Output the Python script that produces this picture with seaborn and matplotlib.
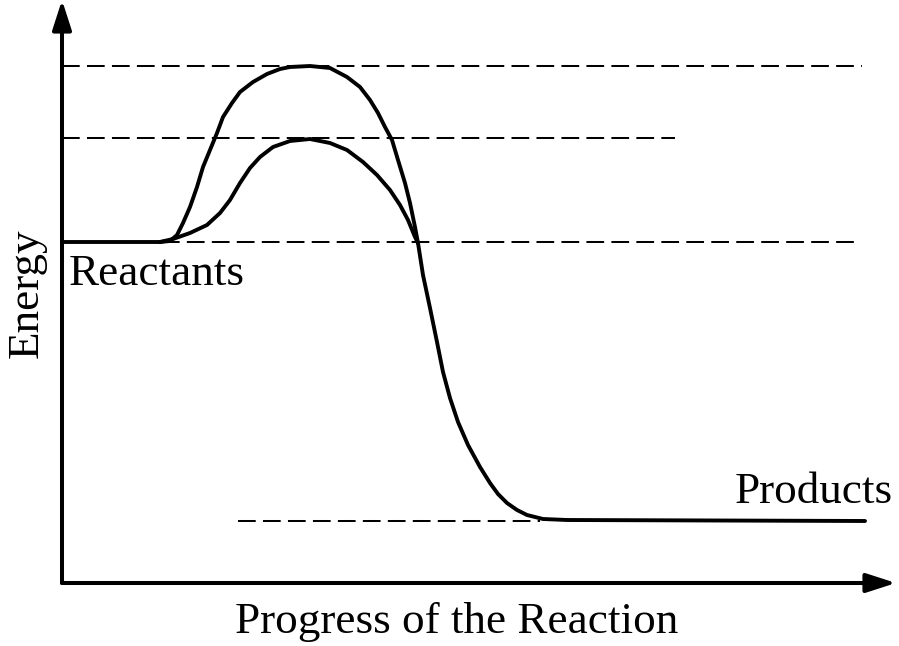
import numpy as np
import pandas as pd
import matplotlib
matplotlib.use("Agg")
import matplotlib.pyplot as plt
import seaborn as sns

# ---- data (x = reaction progress, E = energy) ----
reactant_x = [0, 98]
reactant_E = [341, 341]

uncat_x = [98, 108, 115, 121, 128, 135, 141, 148, 155, 161, 170, 178, 191, 205, 218,
           228, 248, 268, 285, 298, 308, 316, 323, 330, 336, 343, 348, 353, 356]
uncat_E = [341, 342, 348, 360, 376, 396, 416, 433, 450, 466, 480, 491, 501, 509, 514,
           516, 517, 515, 506, 496, 483, 470, 456, 443, 423, 400, 380, 356, 340]

cat_x = [98, 111, 128, 145, 158, 168, 178, 188, 198, 211, 228, 248, 268, 285, 301,
         315, 328, 338, 346, 353, 356]
cat_E = [341, 344, 350, 358, 370, 383, 400, 415, 426, 436, 442, 444, 440, 433, 421,
         408, 393, 378, 363, 346, 340]

desc_x = [356, 361, 368, 375, 381, 388, 396, 406, 418, 428, 436, 445, 455, 465, 481,
          505, 803]
desc_E = [340, 308, 275, 241, 211, 185, 161, 138, 116, 100, 89, 80, 73, 68, 64,
          63, 62]

level_E = [517, 445, 341, 62]          # dashed reference levels
level_start = [0, 0, 0, 176]
level_end = [800, 613, 796, 478]

x_label = "Progress of the Reaction"
y_label = "Energy"
reactant_label = "Reactants"
product_label = "Products"

# ---- drawing ----
sns.set_style("white")
plt.rcParams["font.family"] = ["Liberation Serif", "DejaVu Serif"]
plt.rcParams["text.color"] = "black"

fig = plt.figure(figsize=(8.99, 6.46), dpi=100)
ax = fig.add_axes([62 / 899, 63 / 646, 837 / 899, 583 / 646])
ax.set_xlim(0, 837)
ax.set_ylim(0, 583)
for s in ax.spines.values():
    s.set_visible(False)
ax.set_xticks([])
ax.set_yticks([])

# dashed levels
ax.hlines(level_E, level_start, level_end, colors="black", linewidth=1.45,
          linestyles=(0, (8.8, 3.6)))

curve_kw = dict(color="black", linewidth=2.8, sort=False, estimator=None, ax=ax)
sns.lineplot(x=reactant_x, y=reactant_E, **curve_kw)
sns.lineplot(x=uncat_x, y=uncat_E, **curve_kw)
sns.lineplot(x=cat_x, y=cat_E, **curve_kw)
sns.lineplot(x=desc_x, y=desc_E, **curve_kw)

# axis arrows
arrow = dict(arrowstyle="-|>,head_length=18,head_width=5.8", mutation_scale=1,
             lw=2.9, color="black", shrinkA=0, shrinkB=0)
ax.annotate("", xy=(0, 1.0), xytext=(0, 0), xycoords="axes fraction",
            textcoords="axes fraction", arrowprops=arrow, annotation_clip=False)
ax.annotate("", xy=(834 / 837, 0), xytext=(0, 0), xycoords="axes fraction",
            textcoords="axes fraction", arrowprops=arrow, annotation_clip=False)

fs = 32.5
ax.annotate(reactant_label, xy=(reactant_x[0], reactant_E[0]), xytext=(5, -31),
            textcoords="offset points", fontsize=fs, ha="left", va="baseline",
            color="black")
ax.annotate(product_label, xy=(desc_x[-1], desc_E[-1]), xytext=(20, 13),
            textcoords="offset points", fontsize=fs, ha="right", va="baseline",
            color="black")
fig.text(457 / 899, 13 / 646, x_label, fontsize=fs, ha="center", va="baseline",
         color="black")
fig.text(27 / 899, 1 - 293 / 646, y_label, fontsize=fs, ha="center", va="center",
         rotation=90, color="black")

fig.savefig("out.png", dpi=100)
